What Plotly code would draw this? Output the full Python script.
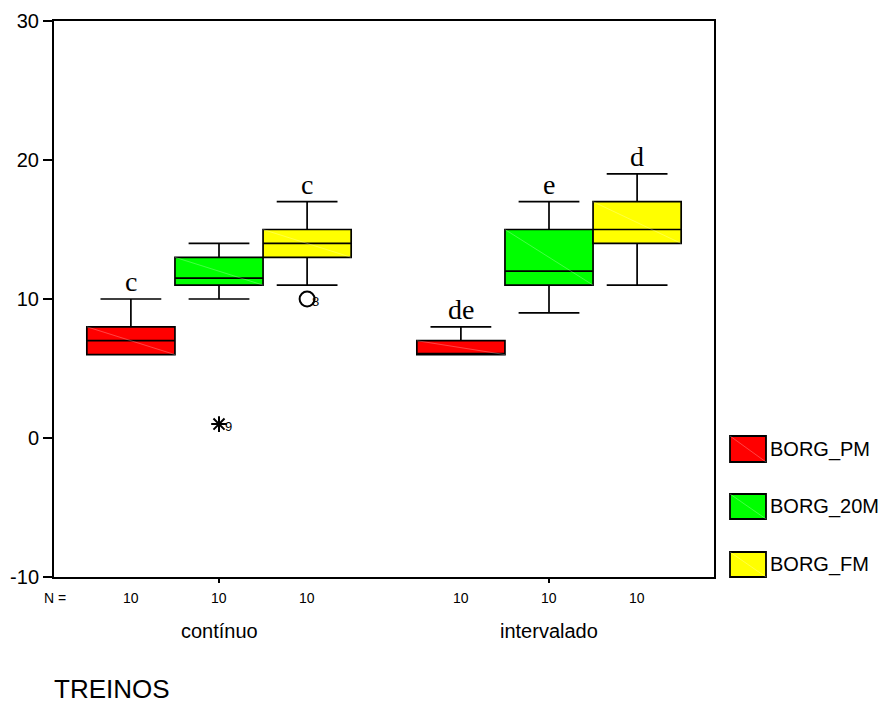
import plotly.graph_objects as go

# ---- data ----
groups = ["contínuo", "intervalado"]
series = ["BORG_PM", "BORG_20M", "BORG_FM"]
colors = ["#FF0000", "#00FF00", "#FFFF00"]

# stats per series, per group (contínuo, intervalado)
q1 = {"BORG_PM": [6, 6], "BORG_20M": [11, 11], "BORG_FM": [13, 14]}
median = {"BORG_PM": [7, 6], "BORG_20M": [11.5, 12], "BORG_FM": [14, 15]}
q3 = {"BORG_PM": [8, 7], "BORG_20M": [13, 15], "BORG_FM": [15, 17]}
lowf = {"BORG_PM": [6, 6], "BORG_20M": [10, 9], "BORG_FM": [11, 11]}
upf = {"BORG_PM": [10, 8], "BORG_20M": [14, 17], "BORG_FM": [17, 19]}
n_counts = {"BORG_PM": [10, 10], "BORG_20M": [10, 10], "BORG_FM": [10, 10]}
letters = {"BORG_PM": ["c", "de"], "BORG_20M": ["", "e"], "BORG_FM": ["c", "d"]}

# outliers: (series, group index, value, case label, kind)
out_series = ["BORG_20M", "BORG_FM"]
out_group = [0, 0]
out_value = [1, 10]
out_label = ["9", "8"]
out_kind = ["extreme", "outlier"]

y_ticks = [-10, 0, 10, 20, 30]
y_ticktext = ["-10", "0", "10", "20", "30"]

# ---- layout helpers ----
W, H = 882, 704
ML, MR, MT, MB = 54, 168, 21, 127
PW, PH = W - ML - MR, H - MT - MB
BOXW = 0.267


def pos(si, gi):
    return gi + (si - 1) * BOXW


def px_x(x):
    return (x - ML) / PW


def px_y(y):
    return (H - MB - y) / PH


fig = go.Figure()
shapes = []
annotations = []

for si, s in enumerate(series):
    for gi in range(len(groups)):
        x = pos(si, gi)
        fig.add_trace(go.Box(
            x=[x], q1=[q1[s][gi]], median=[median[s][gi]], q3=[q3[s][gi]],
            lowerfence=[lowf[s][gi]], upperfence=[upf[s][gi]],
            width=BOXW, whiskerwidth=0.69, fillcolor=colors[si],
            line=dict(color="black", width=1.7), boxpoints=False,
            showlegend=False, hoverinfo="skip", name=s,
        ))
        # faint diagonal hatch artifact
        shapes.append(dict(type="line", xref="x", yref="y",
                           x0=x - BOXW / 2, x1=x + BOXW / 2,
                           y0=q3[s][gi], y1=q1[s][gi],
                           line=dict(color="rgba(255,255,255,0.45)", width=0.6)))
        if letters[s][gi]:
            annotations.append(dict(x=x, y=upf[s][gi], xref="x", yref="y",
                                    text=letters[s][gi], showarrow=False,
                                    yanchor="bottom", yshift=0,
                                    font=dict(family="Liberation Serif", size=28, color="black")))
        annotations.append(dict(x=x, y=0, xref="x", yref="paper",
                                text=str(n_counts[s][gi]), showarrow=False,
                                xanchor="center", yanchor="middle", yshift=-21,
                                font=dict(family="Liberation Sans", size=14, color="black")))

for s, gi, v, lab, kind in zip(out_series, out_group, out_value, out_label, out_kind):
    x = pos(series.index(s), gi)
    fig.add_trace(go.Scatter(
        x=[x], y=[v], mode="markers", showlegend=False, hoverinfo="skip",
        marker=dict(symbol="asterisk-open" if kind == "extreme" else "circle-open",
                    size=13 if kind == "extreme" else 15, color="black",
                    line=dict(color="black", width=2)),
    ))
    annotations.append(dict(x=x, y=v, xref="x", yref="y", text=lab, showarrow=False,
                            xanchor="left", xshift=4 if kind == "extreme" else 3, yshift=-2,
                            font=dict(family="Liberation Sans", size=13, color="black")))

# N = label
annotations.append(dict(x=px_x(42), y=0, xref="paper", yref="paper", text="N =",
                        showarrow=False, xanchor="left", yanchor="middle", yshift=-21,
                        font=dict(family="Liberation Sans", size=14, color="black")))
# group labels
for gi, g in enumerate(groups):
    annotations.append(dict(x=gi, y=0, xref="x", yref="paper", text=g, showarrow=False,
                            xanchor="center", yanchor="middle", yshift=-54,
                            font=dict(family="Liberation Sans", size=20, color="black")))
# axis title
annotations.append(dict(x=px_x(52), y=0, xref="paper", yref="paper", text="TREINOS",
                        showarrow=False, xanchor="left", yanchor="middle", yshift=-112,
                        font=dict(family="Liberation Sans", size=26, color="black")))

# custom legend
leg_rects = [(436, 462), (494, 519), (552, 577)]
for si, s in enumerate(series):
    t, b = leg_rects[si]
    shapes.append(dict(type="rect", xref="paper", yref="paper",
                       x0=px_x(730), x1=px_x(766), y0=px_y(b), y1=px_y(t),
                       fillcolor=colors[si], line=dict(color="black", width=1.8)))
    shapes.append(dict(type="line", xref="paper", yref="paper",
                       x0=px_x(730), x1=px_x(766), y0=px_y(t), y1=px_y(b),
                       line=dict(color="rgba(255,255,255,0.45)", width=0.6)))
    annotations.append(dict(x=px_x(768), y=px_y((t + b) / 2), xref="paper", yref="paper",
                            text=s, showarrow=False, xanchor="left", yanchor="middle",
                            font=dict(family="Liberation Sans", size=20, color="black")))

fig.update_layout(
    width=W, height=H, margin=dict(l=ML, r=MR, t=MT, b=MB, autoexpand=False),
    paper_bgcolor="white", plot_bgcolor="white",
    shapes=shapes, annotations=annotations, showlegend=False,
    xaxis=dict(range=[-0.5, 1.5], tickvals=[0, 1], showticklabels=False,
               ticks="outside", ticklen=4, tickwidth=1.5, tickcolor="black",
               showline=True, mirror=True, linecolor="black", linewidth=2,
               showgrid=False, zeroline=False, fixedrange=True, automargin=False),
    yaxis=dict(range=[-10, 30], tickvals=y_ticks, ticktext=y_ticktext,
               ticks="outside", ticklen=9, tickwidth=1.5, tickcolor="black",
               tickfont=dict(family="Liberation Sans", size=20, color="black"),
               showline=True, mirror=True, linecolor="black", linewidth=2,
               showgrid=False, zeroline=False, fixedrange=True, automargin=False),
)

fig.write_html("out.html")
